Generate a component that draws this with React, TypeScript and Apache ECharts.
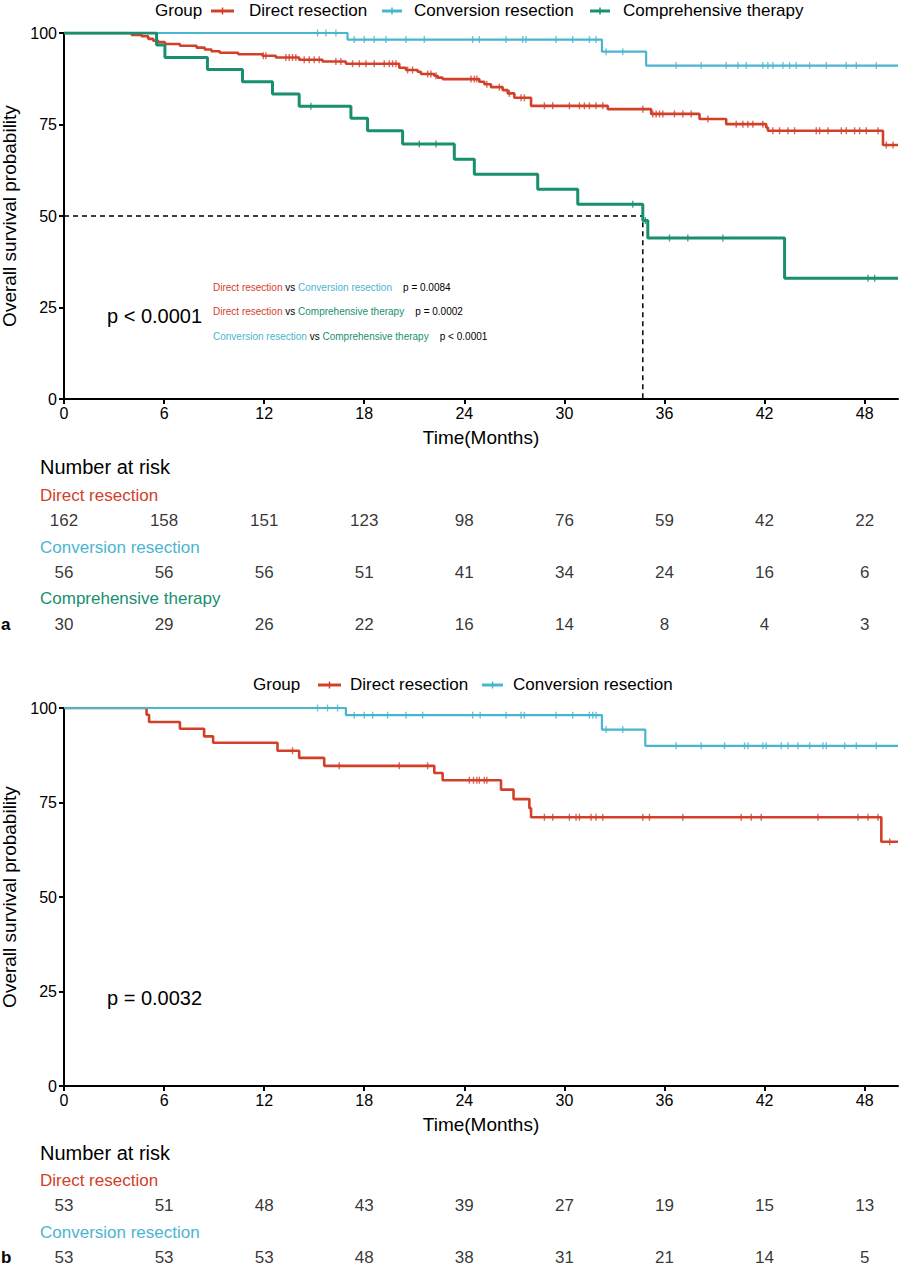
import React, { useEffect, useRef } from "react";
import * as echarts from "echarts";

const FONT = '"Liberation Sans", Arial, Helvetica, sans-serif';
const RED = "#D2402A";
const BLUE = "#4AB5D0";
const GREEN = "#18906F";

const X_TICKS = [0, 6, 12, 18, 24, 30, 36, 42, 48];

// ---------- Panel a ----------
const directA: number[][] = [
  [0, 100], [4.05, 99.5], [4.65, 99.1], [5.05, 98.4], [5.35, 97.9], [5.65, 97.5], [6.05, 97.0],
  [6.95, 96.5], [7.95, 96.0], [8.44, 95.5], [8.84, 95.0], [9.34, 94.6], [10.44, 94.2], [11.9, 93.8],
  [12.7, 93.3], [14.1, 92.7], [15.5, 92.2], [16.9, 91.6], [20.1, 90.5], [20.5, 89.9], [21.2, 89.4],
  [21.4, 88.8], [22.2, 88.3], [22.4, 87.8], [22.7, 87.4], [24.9, 86.7], [25.2, 86.0], [25.6, 85.2],
  [26.3, 84.4], [26.6, 83.5], [27.0, 82.3], [28.0, 80.1], [32.6, 79.2], [35.2, 77.9], [38.1, 76.5],
  [39.7, 75.1], [42.1, 74.2], [42.2, 73.3], [49.1, 69.4], [50, 69.4],
];
const directACensor = [
  11.95, 12.1, 13.3, 13.5, 13.7, 13.9, 14.4, 14.7, 15.0, 15.3, 16.3, 16.6, 17.3, 17.7, 18.1, 18.6,
  19.2, 19.5, 19.7, 19.9, 20.6, 20.9, 21.8, 22.0, 22.3, 24.4, 24.6, 24.75, 25.35, 26.1, 26.7, 27.4,
  27.6, 28.8, 29.3, 30.3, 30.9, 31.2, 31.5, 31.9, 32.3, 34.7, 35.3, 35.5, 35.7, 35.9, 36.6, 37.1,
  37.6, 38.6, 40.3, 40.7, 41.0, 41.3, 41.9, 42.5, 42.9, 43.4, 43.8, 45.1, 45.3, 45.8, 46.6, 46.9,
  47.4, 47.7, 48.1, 48.8, 49.3, 49.7,
];
const conversionA: number[][] = [
  [0, 100], [17.0, 98.2], [32.25, 94.9], [34.9, 91.1], [50, 91.1],
];
const conversionACensor = [
  15.2, 15.7, 16.3, 17.4, 18.0, 18.6, 19.3, 20.5, 21.6, 24.5, 24.9, 26.5, 27.5, 27.7, 29.5, 30.5,
  31.5, 31.9, 32.5, 33.5, 36.7, 38.2, 39.7, 40.4, 40.9, 41.9, 42.2, 42.5, 43.1, 43.5, 43.9, 44.7,
  45.7, 46.9, 47.5, 48.7,
];
const comprehensiveA: number[][] = [
  [0, 100], [5.55, 96.7], [6.05, 93.3], [8.6, 90.0], [10.7, 86.7], [12.5, 83.3], [14.1, 80.0],
  [17.2, 76.7], [18.2, 73.3], [20.3, 69.7], [23.4, 65.5], [24.6, 61.4], [28.4, 57.3], [30.8, 53.2],
  [34.7, 48.8], [35.0, 44.0], [43.2, 33.0], [50, 33.0],
];
const comprehensiveACensor = [14.8, 21.3, 22.3, 34.1, 34.85, 36.3, 37.4, 39.5, 48.2, 48.6];
const medianA = 34.7;

const riskADirect = [162, 158, 151, 123, 98, 76, 59, 42, 22];
const riskAConversion = [56, 56, 56, 51, 41, 34, 24, 16, 6];
const riskAComprehensive = [30, 29, 26, 22, 16, 14, 8, 4, 3];

// ---------- Panel b ----------
const directB: number[][] = [
  [0, 100], [4.95, 98.2], [5.1, 96.3], [6.95, 94.5], [8.4, 92.5], [8.94, 90.8], [12.8, 88.7],
  [14.1, 86.8], [15.6, 84.7], [22.2, 82.8], [22.7, 80.9], [26.2, 78.4], [26.95, 75.9], [27.9, 73.5],
  [28.0, 71.1], [49.0, 64.6], [50, 64.6],
];
const directBCensor = [
  13.7, 16.5, 20.1, 21.8, 24.3, 24.55, 24.75, 24.9, 25.2, 25.35, 28.8, 29.3, 30.3, 30.7, 30.9,
  31.6, 31.9, 32.3, 34.7, 35.1, 37.1, 40.6, 41.2, 41.8, 45.2, 47.6, 48.2, 48.8, 49.5,
];
const conversionB: number[][] = [
  [0, 100], [16.9, 98.1], [32.25, 94.3], [34.85, 90.0], [50, 90.0],
];
const conversionBCensor = [
  15.2, 15.8, 16.4, 17.4, 18.0, 18.5, 19.4, 20.5, 21.5, 24.5, 24.95, 26.5, 27.4, 27.6, 29.5, 30.5,
  31.5, 31.7, 31.9, 32.5, 33.5, 36.7, 38.2, 39.6, 40.8, 41.0, 41.9, 42.1, 43.0, 43.4, 44.0, 44.7,
  45.5, 45.7, 46.8, 47.5, 48.7,
];
const riskBDirect = [53, 51, 48, 43, 39, 27, 19, 15, 13];
const riskBConversion = [53, 53, 53, 48, 38, 31, 21, 14, 5];

function stepValue(data: number[][], t: number): number {
  let v = data[0][1];
  for (const p of data) {
    if (p[0] <= t) v = p[1];
    else break;
  }
  return v;
}

function kmLine(data: number[][], color: string, width: number, idx: number, z: number) {
  return {
    type: "line",
    xAxisIndex: idx,
    yAxisIndex: idx,
    data,
    step: "end",
    symbol: "none",
    z,
    lineStyle: { color, width },
    silent: true,
  };
}

function censors(data: number[][], times: number[], color: string, idx: number, z: number) {
  return {
    type: "scatter",
    xAxisIndex: idx,
    yAxisIndex: idx,
    data: times.map((t) => [t, stepValue(data, t)]),
    symbol: "rect",
    symbolSize: [1.4, 7],
    itemStyle: { color },
    z,
    silent: true,
  };
}

function riskRow(values: number[], row: number, idx: number) {
  return {
    type: "scatter",
    xAxisIndex: idx,
    yAxisIndex: idx,
    data: values.map((n, i) => [X_TICKS[i], row, n]),
    symbolSize: 1,
    itemStyle: { color: "rgba(0,0,0,0)" },
    label: {
      show: true,
      position: "inside",
      formatter: (p: any) => String(p.value[2]),
      fontSize: 17,
      fontFamily: FONT,
      color: "#000",
    },
    silent: true,
  };
}

function plotXAxis(gridIndex: number) {
  return {
    type: "value",
    gridIndex,
    min: 0,
    max: 50,
    interval: 6,
    axisLine: { show: true, lineStyle: { color: "#000", width: 2 } },
    axisTick: { show: true, length: 5, lineStyle: { color: "#000", width: 2 }, customValues: X_TICKS },
    axisLabel: { customValues: X_TICKS, fontSize: 16, color: "#000", margin: 6, fontFamily: FONT },
    splitLine: { show: false },
    name: "Time(Months)",
    nameLocation: "middle",
    nameGap: 29,
    nameTextStyle: { fontSize: 19, color: "#000", fontFamily: FONT },
  };
}

function plotYAxis(gridIndex: number) {
  return {
    type: "value",
    gridIndex,
    min: 0,
    max: 100,
    interval: 25,
    axisLine: { show: true, lineStyle: { color: "#000", width: 2 } },
    axisTick: { show: true, length: 5, lineStyle: { color: "#000", width: 2 } },
    axisLabel: { fontSize: 16, color: "#000", margin: 7, fontFamily: FONT },
    splitLine: { show: false },
    name: "Overall survival probability",
    nameLocation: "middle",
    nameGap: 37,
    nameRotate: 90,
    nameTextStyle: { fontSize: 19, color: "#000", fontFamily: FONT },
  };
}

function txt(text: string, x: number, y: number, fontSize: number, fill: string, extra: any = {}) {
  return {
    type: "text",
    x,
    y,
    silent: true,
    style: {
      text,
      fontSize,
      fontFamily: FONT,
      fill,
      textAlign: "left",
      textVerticalAlign: "middle",
      align: "left",
      verticalAlign: "middle",
      ...extra,
    },
  };
}

function legendIcon(x1: number, x2: number, y: number, color: string) {
  const mid = (x1 + x2) / 2;
  return [
    { type: "line", silent: true, shape: { x1, y1: y, x2, y2: y }, style: { stroke: color, lineWidth: 3 } },
    { type: "line", silent: true, shape: { x1: mid, y1: y - 3.5, x2: mid, y2: y + 3.5 }, style: { stroke: color, lineWidth: 1.5 } },
  ];
}

const RICH = {
  r: { fill: RED, fontSize: 10, fontFamily: FONT },
  b: { fill: BLUE, fontSize: 10, fontFamily: FONT },
  g: { fill: GREEN, fontSize: 10, fontFamily: FONT },
  k: { fill: "#000", fontSize: 10, fontFamily: FONT },
};

export default function App() {
  const ref = useRef<HTMLDivElement>(null);
  useEffect(() => {
    if (!ref.current) return;
    const chart = echarts.init(ref.current, null, { renderer: "svg" });
    const gridBase = { containLabel: false, outerBoundsMode: "none" };
    const option: any = {
      animation: false,
      backgroundColor: "#fff",
      textStyle: { fontFamily: FONT },
      grid: [
        { ...gridBase, left: 64, top: 33, width: 834, height: 366 },
        { ...gridBase, left: 64, top: 708, width: 834, height: 378 },
        { ...gridBase, left: 64, top: 495, width: 834, height: 155 },
        { ...gridBase, left: 64, top: 1179, width: 834, height: 104 },
      ],
      xAxis: [
        plotXAxis(0),
        plotXAxis(1),
        { type: "value", gridIndex: 2, min: 0, max: 50, show: false },
        { type: "value", gridIndex: 3, min: 0, max: 50, show: false },
      ],
      yAxis: [
        plotYAxis(0),
        plotYAxis(1),
        { type: "category", gridIndex: 2, data: ["Direct resection", "Conversion resection", "Comprehensive therapy"], inverse: true, show: false },
        { type: "category", gridIndex: 3, data: ["Direct resection", "Conversion resection"], inverse: true, show: false },
      ],
      series: [
        {
          type: "line",
          xAxisIndex: 0,
          yAxisIndex: 0,
          data: [[0, 50], [medianA, 50], [medianA, 0]],
          symbol: "none",
          lineStyle: { color: "#000", width: 1.5, type: [5, 4] },
          z: 1,
          silent: true,
        },
        kmLine(directA, RED, 2.6, 0, 2),
        kmLine(conversionA, BLUE, 2.2, 0, 3),
        kmLine(comprehensiveA, GREEN, 3, 0, 4),
        censors(directA, directACensor, RED, 0, 5),
        censors(conversionA, conversionACensor, BLUE, 0, 5),
        censors(comprehensiveA, comprehensiveACensor, GREEN, 0, 5),
        kmLine(directB, RED, 2.6, 1, 2),
        kmLine(conversionB, BLUE, 2.2, 1, 3),
        censors(directB, directBCensor, RED, 1, 5),
        censors(conversionB, conversionBCensor, BLUE, 1, 5),
        riskRow(riskADirect, 0, 2),
        riskRow(riskAConversion, 1, 2),
        riskRow(riskAComprehensive, 2, 2),
        riskRow(riskBDirect, 0, 3),
        riskRow(riskBConversion, 1, 3),
      ],
      graphic: [
        // legend a
        txt("Group", 155, 10, 17, "#000"),
        ...legendIcon(211, 234, 11, RED),
        txt("Direct resection", 249, 10, 17, "#000"),
        ...legendIcon(382, 402, 11, BLUE),
        txt("Conversion resection", 414, 10, 17, "#000"),
        ...legendIcon(590, 610, 11, GREEN),
        txt("Comprehensive therapy", 623, 10, 17, "#000"),
        // annotations a
        txt("p < 0.0001", 107, 316, 20, "#000"),
        {
          type: "text", x: 213, y: 287, silent: true,
          style: { text: "{r|Direct resection} {k|vs} {b|Conversion resection}    {k|p = 0.0084}", rich: RICH, fontSize: 10, fontFamily: FONT, textVerticalAlign: "middle", verticalAlign: "middle" },
        },
        {
          type: "text", x: 213, y: 311, silent: true,
          style: { text: "{r|Direct resection} {k|vs} {g|Comprehensive therapy}    {k|p = 0.0002}", rich: RICH, fontSize: 10, fontFamily: FONT, textVerticalAlign: "middle", verticalAlign: "middle" },
        },
        {
          type: "text", x: 213, y: 336, silent: true,
          style: { text: "{b|Conversion resection} {k|vs} {g|Comprehensive therapy}    {k|p < 0.0001}", rich: RICH, fontSize: 10, fontFamily: FONT, textVerticalAlign: "middle", verticalAlign: "middle" },
        },
        // risk table a
        txt("Number at risk", 40, 467, 20, "#000"),
        txt("Direct resection", 40, 495, 17, RED),
        txt("Conversion resection", 40, 547, 17, BLUE),
        txt("Comprehensive therapy", 40, 598, 17, GREEN),
        txt("a", 1, 624, 17, "#000", { fontWeight: "bold" }),
        // legend b
        txt("Group", 253, 684, 17, "#000"),
        ...legendIcon(318, 341, 685, RED),
        txt("Direct resection", 350, 684, 17, "#000"),
        ...legendIcon(482, 503, 685, BLUE),
        txt("Conversion resection", 513, 684, 17, "#000"),
        // annotation b
        txt("p = 0.0032", 107, 998, 20, "#000"),
        // risk table b
        txt("Number at risk", 40, 1153, 20, "#000"),
        txt("Direct resection", 40, 1180, 17, RED),
        txt("Conversion resection", 40, 1232, 17, BLUE),
        txt("b", 1, 1257, 17, "#000", { fontWeight: "bold" }),
      ],
    };
    chart.setOption(option);
    return () => chart.dispose();
  }, []);
  return (
    <div
      ref={ref}
      style={{ position: "absolute", left: 0, top: 0, width: 900, height: 1266, background: "#fff" }}
    />
  );
}
